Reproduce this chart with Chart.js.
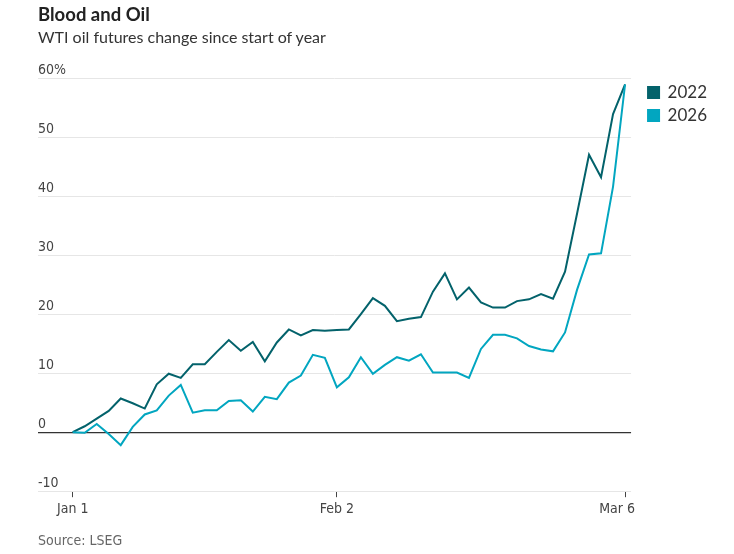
<!DOCTYPE html>
<html>
<head>
<meta charset="utf-8">
<script src="https://cdn.jsdelivr.net/npm/chart.js@4/dist/chart.umd.min.js"></script>
<style>
    body { margin: 0; background: #fff; }
    #wrap { position: relative; width: 734px; height: 554px; }
    #oilChart { position: absolute; left: 0; top: 0; }
    .title { position: absolute; left: 38px; top: 3px; font: bold 18.5px Lato, "Noto Sans", sans-serif; color: #222; }
    .subtitle { position: absolute; left: 38px; top: 27px; font: 16px Lato, "Noto Sans", sans-serif; color: #333; }
    .source { position: absolute; left: 38px; top: 532px; font: 14px "Liberation Sans Narrow", "DejaVu Sans Condensed", sans-serif; color: #666; }
</style>
</head>
<body>
<div id="wrap">
    <canvas id="oilChart" width="734" height="554"></canvas>
    <div class="title">Blood and Oil</div>
    <div class="subtitle">WTI oil futures change since start of year</div>
    <div class="source">Source: LSEG</div>
</div>
<script>
// trading days since Jan 1, % change
const values2022 = [
    0, 1.0, 2.3, 3.6, 5.7, 4.9, 4.0, 8.1, 9.9, 9.2,
    11.5, 11.5, 13.6, 15.6, 13.8, 15.3, 12.0, 15.2, 17.4, 16.4,
    17.3, 17.2, 17.3, 17.4, 20.0, 22.7, 21.4, 18.8, 19.2, 19.5,
    23.8, 26.9, 22.5, 24.5, 22.0, 21.1, 21.1, 22.2, 22.5, 23.4,
    22.6, 27.2, 37.0, 47.0, 43.2, 53.9, 58.9,
];
const values2026 = [
    0, -0.1, 1.4, -0.3, -2.2, 0.9, 3.0, 3.7, 6.2, 8.0,
    3.3, 3.7, 3.7, 5.3, 5.4, 3.5, 6.0, 5.6, 8.4, 9.6,
    13.1, 12.6, 7.6, 9.3, 12.7, 9.9, 11.4, 12.7, 12.1, 13.2,
    10.1, 10.1, 10.1, 9.2, 14.1, 16.5, 16.5, 15.9, 14.6, 14.0,
    13.7, 16.9, 24.1, 30.1, 30.3, 41.6, 58.9,
];
const tickPositions = [0, 22, 46];
const tickLabels = ['Jan 1', 'Feb 2', 'Mar 6'];
const yTicks = [-10, 0, 10, 20, 30, 40, 50, 60];

const Color = {
    Dark: '#03626b',
    Cyan: '#02a6c0',
};

const narrowFont = '"Liberation Sans Narrow", "DejaVu Sans Condensed", sans-serif';

function toPoints(values) {
    return values.map((v, i) => ({ x: i, y: v }));
}

function getDataSetEntry(label, data, color, order) {
    return {
        label,
        data: toPoints(data),
        borderColor: color,
        backgroundColor: color,
        borderWidth: 2,
        pointRadius: 0,
        tension: 0,
        fill: false,
        order,
    };
}

// last date label sits flush with the right end of the plot
function xTickLabel(v) {
    const i = tickPositions.indexOf(v);
    if (i === tickLabels.length - 1) {
        return tickLabels[i] + '\u00a0\u00a0\u00a0\u00a0';
    }
    return tickLabels[i];
}

const ctx = document.getElementById('oilChart').getContext('2d');
new Chart(ctx, {
    type: 'line',
    data: {
        datasets: [
            getDataSetEntry('2022', values2022, Color.Dark, 1),
            getDataSetEntry('2026', values2026, Color.Cyan, 0),
        ],
    },
    options: {
        responsive: false,
        animation: false,
        layout: { padding: { left: 38, top: 78, right: 17, bottom: 32 } },
        plugins: {
            tooltip: { enabled: false },
            legend: {
                position: 'right',
                align: 'start',
                labels: {
                    boxWidth: 11,
                    boxHeight: 11,
                    padding: 6,
                    color: '#333',
                    font: { size: 17, family: 'Lato, "Noto Sans", sans-serif' },
                    sort: (a, b) => a.datasetIndex - b.datasetIndex,
                },
            },
        },
        scales: {
            x: {
                type: 'linear',
                min: -2.89,
                max: 46.5,
                afterBuildTicks: (axis) => {
                    axis.ticks = tickPositions.map((v) => ({ value: v }));
                },
                ticks: {
                    autoSkip: false,
                    maxRotation: 0,
                    color: '#444',
                    font: { size: 14, family: narrowFont },
                    padding: 4,
                    callback: xTickLabel,
                },
                grid: {
                    drawOnChartArea: false,
                    drawTicks: true,
                    tickLength: 6,
                    color: '#444',
                },
                border: { display: false },
            },
            y: {
                min: -10,
                max: 60,
                afterBuildTicks: (axis) => {
                    axis.ticks = yTicks.map((v) => ({ value: v }));
                },
                ticks: {
                    mirror: true,
                    padding: 0,
                    labelOffset: -8,
                    color: '#444',
                    font: { size: 14, family: narrowFont },
                    callback: (v) => (v === 60 ? '60%' : v),
                },
                grid: {
                    drawTicks: false,
                    color: (c) => (c.tick && c.tick.value === 0 ? '#333' : '#e6e6e6'),
                    lineWidth: (c) => (c.tick && c.tick.value === 0 ? 1.3 : 1),
                },
                border: { display: false },
            },
            // empty axis that only keeps a gap between the plot and the legend
            gap: {
                type: 'linear',
                position: 'right',
                ticks: { display: false },
                grid: { display: false },
                border: { display: false },
                afterFit: (s) => {
                    s.width = 11;
                },
            },
        },
    },
});
</script>
</body>
</html>
